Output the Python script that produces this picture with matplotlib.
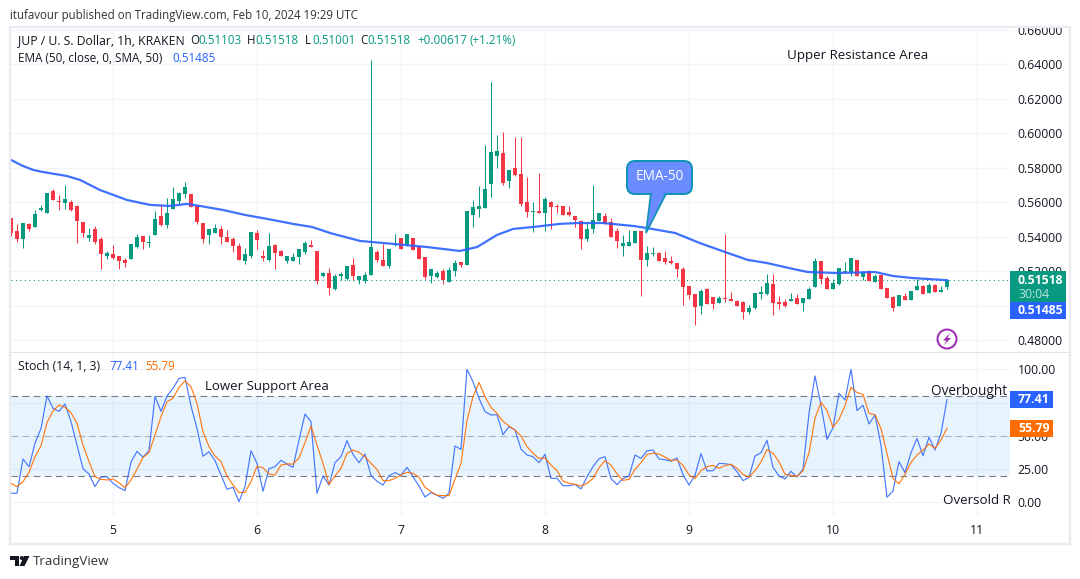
import matplotlib
matplotlib.use("Agg")
import matplotlib.pyplot as plt
from matplotlib.patches import Circle, FancyBboxPatch, Polygon, Rectangle

plt.rcParams["font.family"] = ["Open Sans", "DejaVu Sans"]

W, H = 1080, 579
GREEN = "#089981"
RED = "#f23645"
BLUE = "#2962ff"
ORANGE = "#ff6d00"
TEXT = "#131722"
GRID = "#f0f3fa"

# hourly bars, bar 0 is Feb 4 07:00
opens = [
    .5508, .5433, .5386, .5473, .5456, .5554, .5537, .5664, .5607, .5595,
    .5601, .5578, .5485, .5392, .5444, .5386, .5288, .5300, .5288, .5265,
    .5271, .5340, .5404, .5365, .5410, .5520, .5468, .5560, .5607, .5647,
    .5647, .5578, .5479, .5410, .5421, .5444, .5398, .5386, .5346, .5259,
    .5288, .5421, .5288, .5265, .5352, .5317, .5259, .5259, .5282, .5311,
    .5352, .5317, .5172, .5190, .5097, .5172, .5155, .5236, .5149, .5141,
    .5176, .5310, .5263, .5229, .5354, .5391, .5356, .5391, .5339, .5281,
    .5170, .5165, .5200, .5136, .5200, .5252, .5234, .5525, .5560, .5565,
    .5705, .5867, .5885, .5722, .5798, .5763, .5600, .5542, .5548, .5536,
    .5600, .5577, .5577, .5542, .5519, .5490, .5385, .5443, .5490, .5519,
    .5484, .5432, .5345, .5345, .5362, .5432, .5263, .5298, .5304, .5275,
    .5258, .5246, .5211, .5114, .5067, .4998, .5096, .5050, .5015, .5044,
    .5038, .5027, .5021, .4963, .4986, .5067, .5067, .5125, .5021, .5021,
    .5027, .5044, .5015, .5038, .5108, .5259, .5160, .5096, .5125, .5195,
    .5195, .5265, .5166, .5201, .5137, .5178, .5102, .5050, .4998, .5056,
    .5033, .5091, .5114, .5073, .5120, .5079, .5110,
]
highs = [
    .5508, .5473, .5479, .5479, .5554, .5583, .5653, .5676, .5641, .5699,
    .5612, .5583, .5485, .5450, .5462, .5398, .5317, .5352, .5288, .5277,
    .5358, .5415, .5404, .5410, .5549, .5589, .5624, .5688, .5659, .5717,
    .5647, .5583, .5479, .5444, .5473, .5462, .5439, .5398, .5363, .5334,
    .5427, .5439, .5323, .5421, .5358, .5323, .5288, .5305, .5329, .5375,
    .5381, .5317, .5195, .5219, .5184, .5195, .5230, .5277, .5172, .5194,
    .6425, .5321, .5356, .5327, .5414, .5391, .5414, .5391, .5345, .5281,
    .5211, .5200, .5211, .5223, .5263, .5252, .5548, .5612, .5693, .5931,
    .6297, .5989, .6007, .5786, .5978, .5978, .5745, .5600, .5769, .5629,
    .5606, .5589, .5577, .5577, .5519, .5496, .5484, .5699, .5536, .5536,
    .5507, .5449, .5409, .5438, .5432, .5432, .5345, .5339, .5310, .5316,
    .5287, .5246, .5223, .5114, .5067, .5096, .5102, .5050, .5056, .5416,
    .5079, .5033, .5027, .5003, .5073, .5114, .5183, .5183, .5056, .5038,
    .5073, .5067, .5044, .5108, .5276, .5259, .5172, .5154, .5218, .5253,
    .5276, .5265, .5201, .5207, .5183, .5178, .5102, .5056, .5062, .5073,
    .5085, .5154, .5120, .5131, .5125, .5114, .51518,
]
lows = [
    .5404, .5369, .5334, .5433, .5456, .5549, .5537, .5612, .5554, .5560,
    .5549, .5363, .5398, .5375, .5358, .5213, .5271, .5271, .5213, .5224,
    .5271, .5334, .5329, .5340, .5410, .5462, .5450, .5560, .5583, .5624,
    .5572, .5473, .5363, .5358, .5421, .5358, .5369, .5311, .5265, .5242,
    .5277, .5329, .5259, .5259, .5213, .5288, .5248, .5259, .5242, .5300,
    .5340, .5126, .5166, .5062, .5091, .5149, .5149, .5149, .5126, .5130,
    .5176, .5252, .5229, .5217, .5345, .5327, .5345, .5321, .5269, .5153,
    .5130, .5159, .5124, .5136, .5170, .5223, .5234, .5455, .5513, .5565,
    .5629, .5798, .5699, .5682, .5751, .5577, .5513, .5426, .5536, .5432,
    .5443, .5536, .5525, .5519, .5455, .5327, .5374, .5420, .5490, .5472,
    .5397, .5333, .5287, .5345, .5362, .5054, .5229, .5287, .5258, .5240,
    .5240, .5165, .5002, .5038, .4887, .4951, .5009, .4980, .5015, .5021,
    .5027, .4998, .4922, .4951, .4980, .5038, .5062, .4945, .4980, .4992,
    .5027, .5009, .4969, .5038, .5108, .5125, .5096, .5096, .5120, .5195,
    .5172, .5172, .5149, .5143, .5137, .5096, .5044, .4969, .4998, .5033,
    .5033, .5091, .5067, .5073, .5079, .5079, .5100,
]
closes = [
    .5421, .5386, .5479, .5444, .5531, .5566, .5653, .5612, .5601, .5618,
    .5554, .5491, .5421, .5410, .5369, .5300, .5305, .5277, .5259, .5248,
    .5358, .5398, .5369, .5369, .5502, .5468, .5537, .5618, .5653, .5688,
    .5572, .5485, .5386, .5444, .5450, .5398, .5369, .5346, .5265, .5300,
    .5427, .5381, .5277, .5346, .5305, .5288, .5288, .5282, .5329, .5363,
    .5340, .5143, .5190, .5103, .5172, .5184, .5230, .5172, .5172, .5176,
    .5339, .5263, .5229, .5327, .5360, .5327, .5414, .5321, .5269, .5165,
    .5211, .5188, .5147, .5205, .5246, .5234, .5548, .5571, .5577, .5676,
    .5891, .5896, .5711, .5786, .5757, .5589, .5542, .5548, .5536, .5618,
    .5571, .5571, .5525, .5525, .5496, .5385, .5443, .5496, .5536, .5472,
    .5397, .5374, .5362, .5368, .5432, .5263, .5304, .5304, .5258, .5252,
    .5246, .5211, .5107, .5062, .4992, .5085, .5009, .5009, .5044, .5038,
    .5027, .4998, .4963, .4986, .5073, .5079, .5131, .5015, .5009, .4998,
    .5038, .5009, .5044, .5096, .5259, .5154, .5096, .5131, .5218, .5199,
    .5276, .5172, .5195, .5143, .5172, .5096, .5044, .4986, .5062, .5033,
    .5085, .5114, .5067, .5120, .5079, .5091, .5152,
]

ema_bars = [
    0, 1.8, 3.7, 5.3, 9.3, 11.5, 14.8, 19.3, 23.2, 26.5, 29.3, 31.5, 35.3, 39, 42.7, 47, 50.2,
    53.2, 58.2, 63.7, 69.3, 74.8, 77.7, 81, 83.7, 87, 91.5, 94.3, 98.7, 103.7, 106, 110.7,
    114.8, 119, 122.8, 126, 130.3, 132.8, 137.7, 144, 147, 150.3, 156,
]
ema_values = [
    .5846, .5814, .5788, .5776, .5753, .5730, .5672, .5614, .5585, .5579, .5591, .5579,
    .5556, .5527, .5504, .5475, .5457, .5422, .5376, .5359, .5341, .5318, .5341, .5411,
    .5446, .5457, .5475, .5480, .5480, .5463, .5451, .5422, .5364, .5312, .5266, .5248,
    .5214, .5196, .5190, .5196, .5173, .5161, .51485,
]

stoch_k = [
    6.8, 6.8, 32.6, 26.8, 44.4, 55.6, 80, 70.7, 68.4, 74, 60.7, 43, 25.3, 21.3, 11.8, 19,
    19.3, 14.3, 11, 8.8, 30.3, 38.3, 34, 38.8, 79.7, 68.4, 80, 85.7, 93.2, 94, 72.4, 55.6,
    34.6, 38, 31.3, 20.5, 9.8, 11.3, 0.5, 11.8, 38.8, 29.3, 8.3, 25.3, 26.8, 31.6, 28.8,
    26.3, 46.9, 66.4, 60.7, 6.8, 19.8, 13, 29.8, 34.3, 46.4, 36, 29.8, 36.3, 20.3, 15.8,
    13, 20, 22.3, 20.3, 26.3, 19.3, 12.3, 4, 7.3, 5.3, 3, 6.8, 42.4, 39.8, 100, 90.7, 78.2,
    68.2, 65.7, 65.9, 50.9, 56.9, 54.4, 40.1, 35.6, 34.3, 29.8, 36.1, 18, 18, 12.5, 12.5,
    13.5, 10, 19.3, 26.8, 32.8, 34.3, 17.8, 13.3, 17.8, 19.8, 35.6, 33, 38.8, 39.3, 32.6,
    32, 31, 33.3, 20.8, 13, 20.3, 36.6, 23.6, 23.8, 29.3, 29, 28.3, 23, 16.3, 18.8, 34.8,
    37.3, 46.6, 26.3, 19.8, 17.5, 23.3, 19, 25, 66.9, 95, 73, 47.4, 56, 82, 77, 100, 69,
    73, 58.9, 65.7, 43, 3.8, 8.5, 30.6, 22.3, 37.3, 48, 35, 48.9, 39.3, 51.9, 77.41,
]
stoch_d = [
    14.3, 11.8, 15.5, 22.6, 34.3, 42.4, 59.9, 68.7, 73.2, 71.4, 67.4, 59.4, 43, 30.6, 19.3,
    17.3, 16.8, 17.5, 14.8, 11, 16.8, 24.8, 33.8, 37.3, 50.6, 64.4, 75.7, 78.2, 86.5, 91.2,
    87, 74.4, 53, 41.9, 34.8, 30.6, 19.8, 13, 7.3, 7.5, 15.5, 27, 26, 21.3, 20.5, 28, 28.8,
    28.8, 33.3, 44.9, 57.4, 43, 29.3, 13.5, 19.8, 25.6, 36.8, 39.3, 37.6, 34.3, 29.3, 24.8,
    16.3, 16.3, 18, 20.6, 22.6, 21.8, 18.8, 11.3, 8, 5.3, 5, 5, 17.3, 29.3, 61.4, 79.4, 90.2,
    79.4, 71.4, 66.9, 60.9, 57.4, 54.4, 49.9, 41.9, 36.8, 33, 33.3, 28, 23.8, 16, 14.3, 13.5,
    12.3, 14.3, 18, 26, 31.3, 28, 21.3, 16.5, 17.3, 24.8, 29.8, 36, 37, 36.3, 34, 31.6, 31.8,
    27.8, 20.6, 17.8, 23.8, 26.8, 27.8, 25.6, 27.6, 28.6, 25.6, 21, 19, 23.8, 30.3, 39.6,
    36.8, 30.6, 21, 20.3, 19.5, 23.8, 37.3, 63.2, 75.4, 69, 56.4, 62.4, 72.7, 86.5, 82.5,
    81.2, 66.9, 65.9, 55.4, 36.8, 18, 14, 21, 30, 35.6, 39.3, 43.9, 40.6, 46.9, 55.79,
]

price_ticks = [0.48, 0.50, 0.52, 0.54, 0.56, 0.58, 0.60, 0.62, 0.64, 0.66]
price_labels = ["0.48000", "", "0.52000", "0.54000", "0.56000", "0.58000", "0.60000", "0.62000", "0.64000", "0.66000"]
stoch_ticks = [0, 25, 50, 75, 100]
stoch_labels = ["0.00", "25.00", "50.00", "", "100.00"]
day_bars = [17, 41, 65, 89, 113, 137, 161]
day_labels = ["5", "6", "7", "8", "9", "10", "11"]


def fx(x):
    return x / W


def fy(y):
    return 1 - y / H


def pane(y0, y1):
    return fig.add_axes([fx(11), fy(y1), fx(1010) - fx(11), fy(y0) - fy(y1)])


def style_pane(ax):
    for spine in ax.spines.values():
        spine.set_visible(False)
    ax.set_xlim(0, 166.5)
    ax.set_xticks(day_bars)
    ax.yaxis.tick_right()
    ax.grid(color=GRID, lw=0.9)
    ax.set_axisbelow(True)
    ax.tick_params(length=0, labelsize=8.8, labelcolor=TEXT, pad=5.5)


def label(x, y, s, color=TEXT, size=8.8, **kw):
    kw.setdefault("va", "center")
    fig.text(fx(x), fy(y), s, color=color, fontsize=size, zorder=8, **kw)


def poly(points, **kw):
    fig.add_artist(Polygon([(fx(x), fy(y)) for x, y in points], closed=True,
                           transform=fig.transFigure, **kw))


def box(x0, y0, x1, y1, color, zorder=6):
    fig.add_artist(Rectangle((fx(x0), fy(y1)), fx(x1) - fx(x0), fy(y0) - fy(y1),
                             transform=fig.transFigure, fc=color, ec="none", zorder=zorder))


fig = plt.figure(figsize=(W / 100, H / 100), dpi=100, facecolor="white")

# price pane
ax = pane(27, 352)
style_pane(ax)
ax.set_ylim(0.4732, 0.6617)
ax.set_yticks(price_ticks)
ax.set_yticklabels(price_labels)
ax.tick_params(axis="x", labelbottom=False)

bars = range(len(closes))
colors = [GREEN if c >= o else RED for o, c in zip(opens, closes)]
ax.vlines(bars, lows, highs, colors=colors, lw=0.75, zorder=2)
ax.bar(bars, [abs(c - o) for o, c in zip(opens, closes)],
       bottom=[min(o, c) for o, c in zip(opens, closes)], width=0.8, color=colors, zorder=3)
ax.axhline(closes[-1], color=GREEN, lw=0.8, ls=(0, (1, 3)), zorder=2)
ax.plot(ema_bars, ema_values, color=BLUE, lw=1.6, zorder=4, alpha=0.9, solid_joinstyle="round")
ax.text(0.7765, 0.9135, "Upper Resistance Area", transform=ax.transAxes, color=TEXT, fontsize=9.6, va="center")

# stochastic pane
ax2 = pane(353, 516)
style_pane(ax2)
ax2.set_ylim(-10.3, 112.3)
ax2.set_yticks(stoch_ticks)
ax2.set_yticklabels(stoch_labels)
ax2.set_xticklabels(day_labels)
ax2.tick_params(axis="x", pad=6)
ax2.axhspan(20, 80, color="#2196f3", alpha=0.1, lw=0, zorder=1)
ax2.axhline(80, color="#787b86", lw=0.8, ls=(0, (6, 4)), zorder=2)
ax2.axhline(50, color="#787b86", lw=0.8, ls=(0, (6, 4)), alpha=0.5, zorder=2)
ax2.axhline(20, color="#787b86", lw=0.8, ls=(0, (6, 4)), zorder=2)
ax2.plot(bars, stoch_k, color=BLUE, lw=0.85, zorder=3, alpha=0.85)
ax2.plot(bars, stoch_d, color=ORANGE, lw=0.85, zorder=4, alpha=0.9)
ax2.text(32.3, 87.3, "Lower Support Area", color=TEXT, fontsize=9.5, va="center", clip_on=True)
ax2.text(153.3, 83.3, "Overbought R", color=TEXT, fontsize=9.8, va="center", clip_on=True)
ax2.text(155.3, 1.5, "Oversold R", color=TEXT, fontsize=9.6, va="center", clip_on=True)

# chart frame, the white strip above it cuts the top price label
box(0, 0, W, 26, "white", zorder=5)
fig.add_artist(Rectangle((fx(10), fy(543.5)), fx(1070) - fx(10), fy(26.5) - fy(543.5),
                         transform=fig.transFigure, fc="none", ec="#e9ebf1", lw=1.6, zorder=5))
box(10, 352, 1070, 353.2, "#e0e3eb", zorder=5)

# header and legends
label(10, 15, "itufavour published on TradingView.com, Feb 10, 2024 19:29 UTC", color="#333333", size=8.3)
label(18, 41, "JUP / U. S. Dollar, 1h, KRAKEN", size=8.8)
for x, s, c in [(190, "O", TEXT), (198, "0.51103", GREEN), (247, "H", TEXT), (255, "0.51518", GREEN),
                (305, "L", TEXT), (312, "0.51001", GREEN), (360, "C", TEXT), (367, "0.51518", GREEN),
                (417, "+0.00617", GREEN), (470, "(+1.21%)", GREEN)]:
    label(x, 41, s, color=c, size=8.4)
label(18, 59, "EMA (50, close, 0, SMA, 50)", size=8.5)
label(172, 59, "0.51485", color=BLUE, size=8.4)
label(18, 367, "Stoch (14, 1, 3)", size=8.7)
label(109, 367, "77.41", color=BLUE, size=8.4)
label(145, 367, "55.79", color=ORANGE, size=8.4)

# price and indicator badges
box(1010, 271, 1066, 302, GREEN)
box(1010, 302, 1066, 319, BLUE)
label(1018, 280, "0.51518", color="white", weight="bold", size=8.8)
label(1018, 294, "30:04", color="#bfe6df", size=8.8)
label(1018, 311, "0.51485", color="white", weight="bold", size=8.8)
box(1010, 391, 1053, 408, BLUE)
box(1010, 420, 1053, 437, ORANGE)
label(1018, 399.5, "77.41", color="white", weight="bold", size=8.8)
label(1018, 428.5, "55.79", color="white", weight="bold", size=8.8)

# EMA-50 callout
poly([(651, 192), (667, 192), (646, 233)], fc="#6b8cff", ec="#0d93b5", lw=1.2, zorder=6)
fig.add_artist(FancyBboxPatch((627, H - 194), 65, 33, boxstyle="round,pad=0,rounding_size=8",
                              transform=None, fc="#6b8cff", ec="#0d93b5", lw=1.4, zorder=6))
poly([(652.5, 191), (665, 191), (648, 227)], fc="#6b8cff", ec="none", zorder=7)
label(659.5, 177, "EMA-50", color="white", size=9.8, ha="center", weight="medium")

# lightning badge
fig.add_artist(Circle((947, H - 339), 9.5, transform=None, fc="white", ec="#9c27b0", lw=1.4, zorder=6))
poly([(950, 333), (943, 340.5), (946.5, 340.5), (944, 345), (951, 338), (947.5, 338)],
     fc="#9c27b0", ec="none", zorder=7)

# TradingView logo
poly([(10, 556), (19, 556), (19, 566), (15, 566), (15, 560), (10, 560)], fc=TEXT, ec="none", zorder=7)
fig.add_artist(Circle((21.8, H - 558), 2.0, transform=None, fc=TEXT, ec="none", zorder=7))
poly([(24, 556), (29.5, 556), (24.5, 566), (19.5, 566)], fc=TEXT, ec="none", zorder=7)
label(33, 561.5, "TradingView", color="#333333", size=9.6)

fig.savefig("out.png", dpi=100)
